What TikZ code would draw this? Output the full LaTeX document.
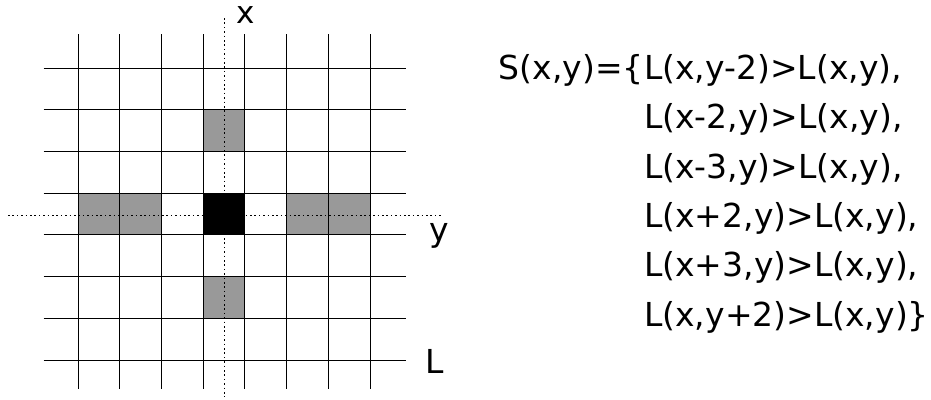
\documentclass[tikz,border=0pt]{standalone}
\usepackage{fontspec}
\setmainfont{DejaVu Sans}
\begin{document}
\begin{tikzpicture}[x=1pt,y=-1pt,
  gridline/.style={line width=1.5pt, black},
  cellg/.style={fill=black!40, draw=black!80, line width=1.5pt},
  cellb/.style={fill=black, draw=black, line width=1.5pt},
  dotline/.style={line width=1.6pt, dash pattern=on 1.6pt off 2.8pt},
  lab/.style={font=\fontsize{33}{40}\selectfont, inner sep=0pt, anchor=base west}]
\useasboundingbox (0,0) rectangle (931,399);
% shaded cells
\filldraw[cellg] (203.5,109.5) rectangle (244.5,151.5);
\filldraw[cellg] (203.5,276.5) rectangle (244.5,318.5);
\filldraw[cellg] (78.5,193.5) rectangle (161.5,234.5);
\filldraw[cellg] (286.5,193.5) rectangle (370.5,234.5);
\filldraw[cellb] (203.5,193.5) rectangle (244.5,234.5);
% grid
\foreach \v in {78.5,119.5,161.5,203.5,244.5,286.5,328.5,370.5}
  \draw[gridline] (\v,34.3) -- (\v,389);
\foreach \h in {68.5,109.5,151.5,193.5,234.5,276.5,318.5,360.5}
  \draw[gridline] (43.7,\h) -- (406.3,\h);
% axes
\coordinate (xt) at (224.5,18);
\coordinate (xb) at (224.5,397);
\coordinate (yl) at (8,215.5);
\coordinate (yr) at (442,215.5);
\draw[dotline] (xt) -- (xb);
\draw[dotline] (yl) -- (yr);
% labels
\node[lab, font=\fontsize{31}{37}\selectfont, text height=0.6em] (lx) at (236,23) {x};
\node[lab] (ly) at (429,241) {y};
\node[lab] (lL) at (425,373) {L};
% formula
\node[lab, anchor=base east] (s0) at (644,79) {S(x,y)=\{};
\node[lab] (s1) at (644,79) {L(x,y-2)>L(x,y),};
\node[lab] (s2) at (644,128.5) {L(x-2,y)>L(x,y),};
\node[lab] (s3) at (644,178) {L(x-3,y)>L(x,y),};
\node[lab] (s4) at (644,227) {L(x+2,y)>L(x,y),};
\node[lab] (s5) at (644,276.5) {L(x+3,y)>L(x,y),};
\node[lab] (s6) at (644,326) {L(x,y+2)>L(x,y)\}};
\end{tikzpicture}
\end{document}
